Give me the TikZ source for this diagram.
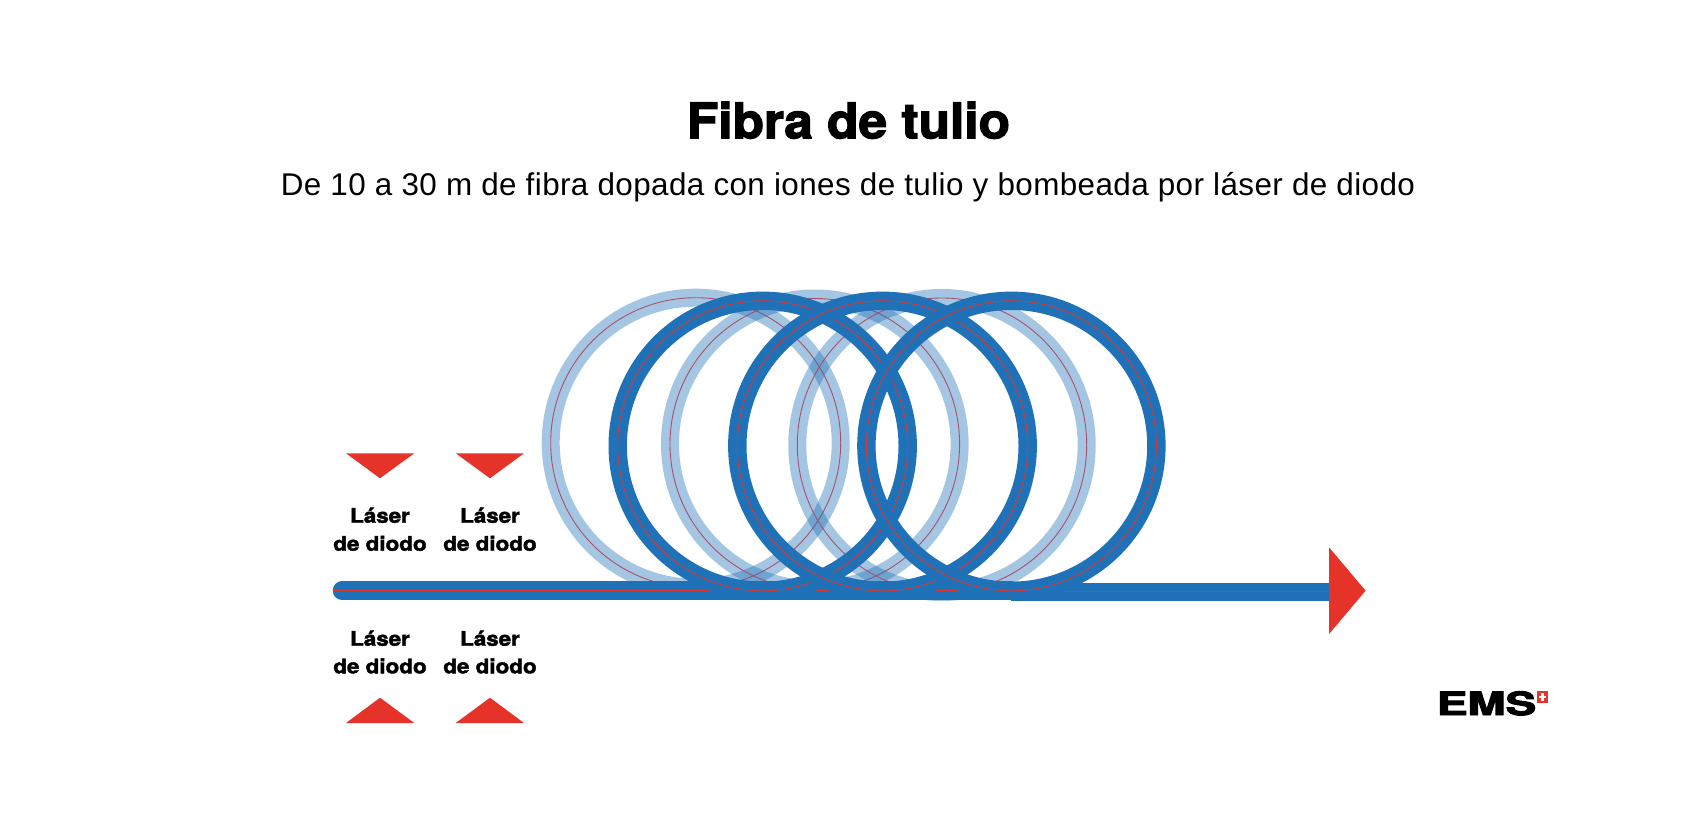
\documentclass[tikz,border=0pt]{standalone}
\usepackage{fontspec}
\setmainfont{Liberation Sans}[LetterSpace=1.3]
\newfontfamily\heavy[BoldFont={TeX Gyre Heros Bold},BoldFeatures={FakeBold=2,FakeStretch=1.12}]{TeX Gyre Heros}
\newfontfamily\heavytitle[BoldFont={TeX Gyre Heros Bold},BoldFeatures={FakeBold=2.5,FakeStretch=1.05}]{TeX Gyre Heros}
\newfontfamily\heavylogo[BoldFont={TeX Gyre Heros Bold},BoldFeatures={FakeBold=3}]{TeX Gyre Heros}
\definecolor{fibre}{HTML}{1F71B8}
\definecolor{core}{HTML}{E6332A}
\definecolor{corelight}{HTML}{A8506E}
\tikzset{
  lightring/.style={draw=fibre,draw opacity=.4,line width=18pt},
  lightcore/.style={draw=corelight,line width=.9pt},
  darkring/.style={draw=fibre,line width=18.4pt},
  darkcore/.style={draw=core,line width=.8pt},
  pump/.style={fill=core},
  laser/.style={font=\heavy\bfseries\fontsize{20}{28}\selectfont,align=center,anchor=base,inner sep=0pt,text=black}
}
\newcommand{\lightloop}[4]{%
  \draw[lightring] (#1,#2) ellipse [x radius=#3,y radius=#4];
  \draw[lightcore] (#1,#2) ellipse [x radius=#3,y radius=#4];}
\newcommand{\darkloop}[4]{%
  \draw[darkring] (#1,#2) ellipse [x radius=#3,y radius=#4];
  \draw[darkcore] (#1,#2) ellipse [x radius=#3,y radius=#4];}
\begin{document}
\begin{tikzpicture}[x=1pt,y=-1pt]
\useasboundingbox (0,0) rectangle (1690,830);
\fill[white] (0,0) rectangle (1690,830);
% title
\node[anchor=base,inner sep=0pt,font=\heavytitle\bfseries\fontsize{49}{55}\selectfont] (title) at (848.5,138.3) {Fibra de tulio};
\node[anchor=base,inner sep=0pt,font=\fontsize{31.4}{37}\selectfont] (sub) at (848,195) {De 10 a 30 m de fibra dopada con iones de tulio y bombeada por láser de diodo};
% light loops
\lightloop{695.7}{442.7}{145}{145}
\lightloop{814.8}{444}{144.8}{145.5}
\lightloop{942}{445}{144.7}{147}
% straight fibre
\coordinate (start) at (342,590.7);
\coordinate (mid) at (1011,590.7);
\coordinate (midr) at (1011,591.7);
\coordinate (end) at (1335,591.7);
\draw[fibre,line width=18.6pt,line cap=round] (start) -- (mid);
\draw[fibre,line width=18pt] (midr) -- (end);
\draw[core,line width=.8pt] (333,590.7) -- (mid);
\draw[core,line width=.8pt] (midr) -- (end);
% dark loops
\darkloop{762.7}{445.8}{145}{145}
\darkloop{882.5}{445.8}{145.2}{145}
\darkloop{1011.4}{445.8}{145}{145}
% arrow head
\fill[pump] (1329,547.3) -- (1365.6,590.7) -- (1329,634) -- cycle;
% pumps
\fill[pump] (346,453.3) -- (414.3,453.3) -- (380,478.3) -- cycle;
\fill[pump] (455.7,453.3) -- (524,453.3) -- (490,478.3) -- cycle;
\fill[pump] (346,723) -- (414.3,723) -- (380,697.7) -- cycle;
\fill[pump] (455.7,723) -- (524,723) -- (490,697.7) -- cycle;
\node[laser] (l1a) at (380,522.7) {Láser};
\node[laser] (l1b) at (380,550.7) {de diodo};
\node[laser] (l2a) at (490,522.7) {Láser};
\node[laser] (l2b) at (490,550.7) {de diodo};
\node[laser] (l3a) at (380,645.7) {Láser};
\node[laser] (l3b) at (380,673.3) {de diodo};
\node[laser] (l4a) at (490,645.7) {Láser};
\node[laser] (l4b) at (490,673.3) {de diodo};
% logo
\node[anchor=base west,inner sep=0pt,font=\heavylogo\bfseries\fontsize{32}{32}\selectfont] (ems) at (1436.8,715) {\scalebox{1.43}[1]{EMS}};
\fill[core] (1536.7,691) rectangle (1548.3,702.7);
\fill[white] (1541.2,693) rectangle (1543.8,700.7);
\fill[white] (1538.7,695.6) rectangle (1546.3,698.1);
\end{tikzpicture}
\end{document}
